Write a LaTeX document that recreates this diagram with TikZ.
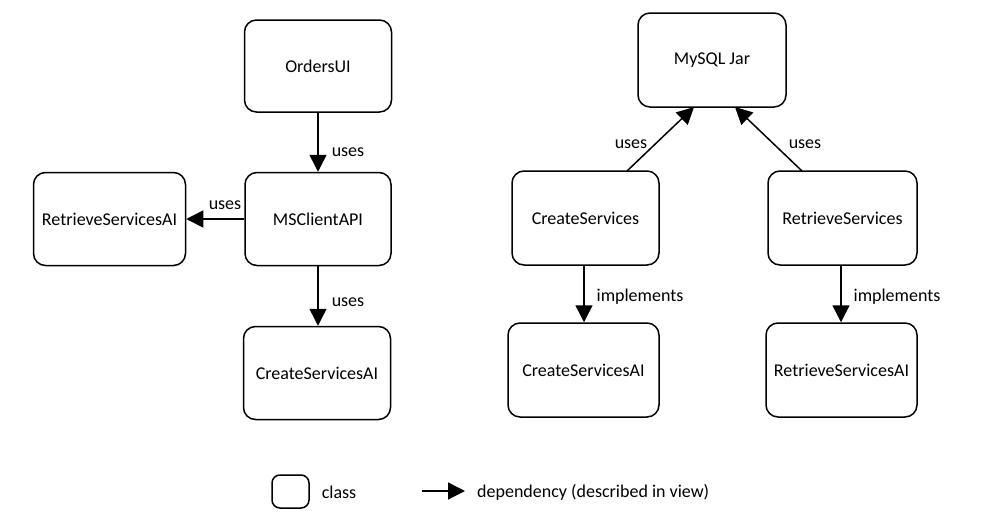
\documentclass[tikz,border=0pt]{standalone}
\usepackage{fontspec}
\setmainfont{Carlito}
\usetikzlibrary{arrows.meta}
\begin{document}
\begin{tikzpicture}[x=1pt,y=-1pt,
  cls/.style={draw, line width=1.5pt, rounded corners=12pt, font=\fontsize{18}{21}\selectfont},
  dep/.style={line width=1.5pt, -{Triangle[length=17pt,width=17pt]}},
  lbl/.style={font=\fontsize{18}{21}\selectfont, inner sep=0pt}]
\useasboundingbox (0,0) rectangle (1002,517);
% boxes
\node[cls, minimum width=147pt, minimum height=92pt] (ordersui) at (318,66) {OrdersUI};
\node[cls, minimum width=146pt, minimum height=93pt] (msclient) at (318,219) {MSClientAPI};
\node[cls, minimum width=147pt, minimum height=93pt] (csaiL) at (317,373) {CreateServicesAI};
\node[cls, minimum width=152pt, minimum height=93pt] (rsaiL) at (109.5,219) {RetrieveServicesAI};
\node[cls, minimum width=148pt, minimum height=94pt] (mysql) at (712,60) {MySQL Jar};
\node[cls, minimum width=147pt, minimum height=94pt] (cs) at (585.5,218) {CreateServices};
\node[cls, minimum width=149pt, minimum height=94pt] (rs) at (842.5,218) {RetrieveServices};
\node[cls, minimum width=151pt, minimum height=94pt] (csaiR) at (583.5,370) {CreateServicesAI};
\node[cls, minimum width=151pt, minimum height=94pt] (rsaiR) at (841.5,370) {RetrieveServicesAI};
% connectors
\draw[dep] (ordersui) -- (msclient);
\draw[dep] (msclient.west) -- (rsaiL.east);
\draw[dep] (msclient.south -| 318,0) -- (csaiL.north -| 318,0);
\coordinate (m1) at (694,107);
\coordinate (m2) at (735,107);
\coordinate (c1) at (627,171);
\coordinate (r1) at (802,171);
\draw[dep] (c1) -- (m1);
\draw[dep] (r1) -- (m2);
\draw[dep] (cs.south -| 584,0) -- (csaiR.north -| 584,0);
\draw[dep] (rs.south -| 841,0) -- (rsaiR.north -| 841,0);
% labels
\node[lbl] (u1) at (348,152) {uses};
\node[lbl] (u2) at (225,205) {uses};
\node[lbl] (u3) at (348,302) {uses};
\node[lbl] (u4) at (631,144) {uses};
\node[lbl] (u5) at (805,144) {uses};
\node[lbl] (i1) at (640,297) {implements};
\node[lbl] (i2) at (897,297) {implements};
% legend
\node[draw, line width=1.5pt, rounded corners=8pt, minimum width=37pt, minimum height=33pt] (legcls) at (290.5,491.5) {};
\node[lbl] (legclst) at (339,492) {class};
\coordinate (la) at (422,491);
\coordinate (lb) at (465,491);
\draw[dep] (la) -- (lb);
\node[lbl, anchor=west] (legdep) at (477,492) {dependency (described in view)};
\end{tikzpicture}
\end{document}
